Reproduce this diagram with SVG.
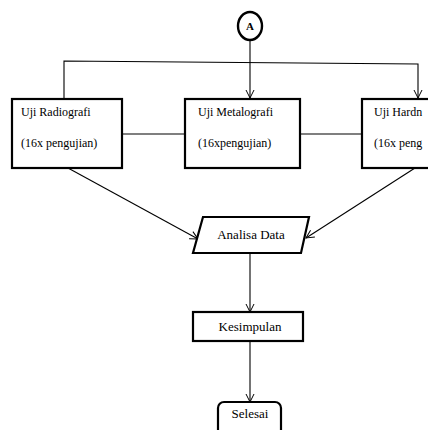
<svg xmlns="http://www.w3.org/2000/svg" width="428" height="430" viewBox="0 0 428 430">
<defs>
<marker id="arr" markerWidth="10" markerHeight="10" refX="9" refY="5" orient="auto" markerUnits="userSpaceOnUse">
<polyline points="1,1 9,5 1,9" fill="none" stroke="#000" stroke-width="1"/>
</marker>
<style>
.box{fill:#fff;stroke:#000;stroke-width:2.2}
.ln{fill:none;stroke:#000;stroke-width:1.1}
text{font-family:'Liberation Serif','DejaVu Serif',serif;fill:#000}
.t{font-size:12px}
.tc{font-size:13px;text-anchor:middle}
</style>
</defs>
<rect width="428" height="430" fill="#fff"/>
<g id="connectors">
<line class="ln" x1="250" y1="40" x2="250" y2="98" marker-end="url(#arr)"/>
<polyline class="ln" points="64,98 64,61 418,64 418,98" marker-end="url(#arr)"/>
<line class="ln" x1="122" y1="134" x2="185" y2="134"/>
<line class="ln" x1="300" y1="134" x2="362" y2="134"/>
<line class="ln" x1="68" y1="168" x2="198" y2="239" marker-end="url(#arr)"/>
<line class="ln" x1="415" y1="168" x2="306" y2="238" marker-end="url(#arr)"/>
<line class="ln" x1="250" y1="253" x2="250" y2="312" marker-end="url(#arr)"/>
<line class="ln" x1="250" y1="341" x2="250" y2="402" marker-end="url(#arr)"/>
</g>
<g id="nodeA">
<ellipse cx="250" cy="26" rx="12" ry="14" fill="#fff" stroke="#000" stroke-width="2.4"/>
<text x="250" y="30" font-size="11" font-weight="bold" text-anchor="middle">A</text>
</g>
<g id="radiografi">
<rect class="box" x="12" y="99" width="110" height="69"/>
<text class="t" x="21" y="116">Uji Radiografi</text>
<text class="t" x="21" y="147">(16x pengujian)</text>
</g>
<g id="metalografi">
<rect class="box" x="185" y="99" width="115" height="69"/>
<text class="t" x="198" y="116">Uji Metalografi</text>
<text class="t" x="198" y="147">(16xpengujian)</text>
</g>
<g id="hardness">
<rect class="box" x="362" y="99" width="80" height="69"/>
<text class="t" x="374" y="116">Uji Hardn</text>
<text class="t" x="374" y="147">(16x peng</text>
</g>
<g id="analisa">
<polygon class="box" points="203,217 309,217 301,253 193,253"/>
<text class="tc" x="251" y="239">Analisa Data</text>
</g>
<g id="kesimpulan">
<rect class="box" x="193" y="312" width="110" height="29"/>
<text class="tc" x="250" y="331">Kesimpulan</text>
</g>
<g id="selesai">
<rect class="box" x="218" y="402" width="63" height="40" rx="6"/>
<text class="tc" x="250" y="418">Selesai</text>
</g>
</svg>
